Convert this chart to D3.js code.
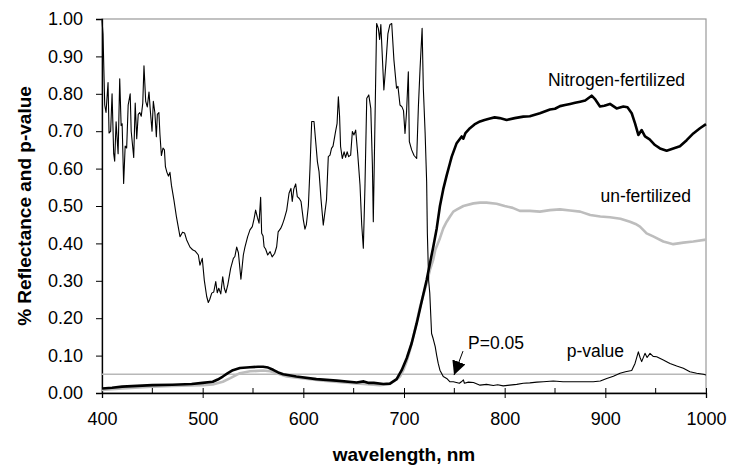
<!DOCTYPE html>
<html lang="en">
  <head>
    <meta charset="UTF-8" />
    <title>Reflectance and p-value</title>
    <script src="https://d3js.org/d3.v7.min.js"></script>
    <style>
      body { margin: 0; background: #fff; }
      text { font-family: Arial, "Liberation Sans", sans-serif; fill: #000; }
    </style>
  </head>
  <body>
    <script>
      const width = 736;
      const height = 470;

      // Nitrogen-fertilized reflectance
      const nitroWave = [400,410,420,435,450,470,489,500,510,515,520,525,530,537,547,555,560,565,570,575,580,593,613,633,653,660,665,670,679.5,686,692.7,697.7,702.7,707.6,712.6,717.5,722.5,725.8,729,732.5,735.7,739,742.4,745.7,747.4,752.3,757.3,759,761,765.5,770,775.5,780,785.4,790,795,802,810,818.5,825,835,845,850,855,860,865,870,875,880,886.4,890,894.7,899,904.6,911.2,917.9,922,926.2,929.5,932.8,936.1,939.4,944,949.3,954.3,960.9,967.5,974.1,980.8,987.4,994,1000];
      const nitroRefl = [0.012,0.014,0.017,0.019,0.021,0.022,0.024,0.027,0.030,0.036,0.044,0.053,0.061,0.067,0.069,0.070,0.070,0.068,0.062,0.055,0.050,0.044,0.037,0.033,0.028,0.031,0.027,0.027,0.024,0.025,0.037,0.061,0.093,0.133,0.186,0.244,0.302,0.347,0.39,0.44,0.50,0.545,0.582,0.615,0.632,0.668,0.686,0.68,0.695,0.708,0.718,0.726,0.73,0.734,0.737,0.735,0.730,0.735,0.739,0.740,0.748,0.758,0.76,0.767,0.77,0.773,0.776,0.779,0.782,0.795,0.785,0.766,0.768,0.773,0.761,0.766,0.764,0.748,0.721,0.69,0.703,0.686,0.678,0.663,0.654,0.648,0.654,0.660,0.676,0.694,0.708,0.719];

      // un-fertilized reflectance
      const unfertWave = [400,420,450,470,500,510,520,527,537,547,560,567,573.5,583.5,600,620,640,660,676,686,692.7,696,699.3,702.7,706,709.3,712.6,716,719.2,722.5,725.8,729,731,735.7,739,742.4,745.7,749,752.3,759,769,775.5,782,792,800,808,815,825,835,845,855,865,875,885,895,904.6,915,924.5,930,934.4,941,948,957.6,967.5,977.5,987.4,1000];
      const unfertRefl = [0.008,0.012,0.017,0.019,0.021,0.023,0.030,0.039,0.053,0.058,0.060,0.058,0.053,0.044,0.039,0.033,0.028,0.024,0.021,0.024,0.036,0.044,0.061,0.085,0.115,0.151,0.19,0.231,0.262,0.293,0.329,0.356,0.382,0.414,0.44,0.458,0.472,0.485,0.49,0.50,0.507,0.509,0.509,0.506,0.50,0.495,0.487,0.487,0.485,0.489,0.491,0.488,0.485,0.476,0.472,0.47,0.466,0.458,0.452,0.445,0.427,0.418,0.405,0.398,0.402,0.405,0.41];

      // p-value of the difference
      const pWave = [400,401,402.7,404,406,407,408.6,410,411.6,412.6,414,416,417.6,419,420,421.5,423,424.5,426,428,429,431.5,433,434.5,436,437.5,439,440.5,441.7,443.4,445,446.7,448,449.7,451,452.5,454,455,456.5,457.6,459,460.6,462,463,464.5,466,467.5,469,471.5,474,476,477.5,480,482,484,487.4,490,492.4,495.7,497.3,499.6,501.6,504,505.6,507,509,511,513,514.5,516,518,519.9,521.5,523,525,527.8,530.5,532,533.8,535.5,538,540.4,542,544.7,547,549.3,551,552.6,554.3,556,557.6,558.6,560,561,562.5,564.6,567,569,571.5,573.5,575,577.5,579,581,583.5,585.8,587.7,589,590.5,592.4,594,596,597.7,600,601.6,603,605,606.6,608.3,610.6,612.3,614,615.6,617.5,619.8,623,624.8,626.5,628,629.5,632,633.5,634.8,636,637,638.7,640.5,642,643.5,645,647,648.7,650.3,652,654,656.3,658,659.6,661.2,663,665,667,668.6,669.5,671,672.8,674.5,675.8,677,680,682,684,686,687.8,690,692.6,694,696,698,699.5,701,702.5,704.3,705.3,707.6,710,712.6,714.3,716,718,719.2,721,722.5,723.2,724.5,725.6,727.4,729,731,732.5,734,735.7,739,742.4,745.7,749,752,755,757,759,760,764,769,775.5,782,788.7,793,798.6,805,812,818.5,825,832,838.4,848.3,858,868.2,878,888,895,901.4,908,914.6,920,926.2,929.5,932.8,934.5,936.1,939.4,941.5,944.4,947.5,951,957.6,964.2,970.9,977.5,984,990.7,997.3,1000];
      const pVal = [0.997,0.96,0.77,0.75,0.83,0.695,0.70,0.80,0.64,0.62,0.725,0.64,0.84,0.715,0.72,0.56,0.66,0.655,0.77,0.80,0.70,0.63,0.775,0.68,0.745,0.75,0.74,0.775,0.875,0.78,0.765,0.805,0.755,0.70,0.78,0.75,0.685,0.745,0.75,0.69,0.635,0.655,0.65,0.605,0.59,0.58,0.59,0.555,0.515,0.47,0.44,0.418,0.43,0.428,0.41,0.39,0.383,0.38,0.369,0.342,0.36,0.302,0.258,0.242,0.25,0.267,0.27,0.298,0.268,0.28,0.265,0.311,0.28,0.268,0.29,0.333,0.36,0.365,0.39,0.375,0.304,0.369,0.39,0.418,0.436,0.445,0.465,0.489,0.47,0.454,0.523,0.427,0.42,0.391,0.385,0.369,0.378,0.364,0.373,0.391,0.431,0.44,0.449,0.465,0.489,0.534,0.547,0.512,0.545,0.559,0.525,0.52,0.512,0.463,0.438,0.45,0.5,0.6,0.726,0.726,0.672,0.618,0.592,0.52,0.449,0.516,0.632,0.636,0.654,0.66,0.699,0.72,0.792,0.74,0.659,0.627,0.645,0.63,0.645,0.632,0.636,0.699,0.69,0.703,0.64,0.556,0.45,0.387,0.55,0.788,0.797,0.761,0.61,0.458,0.7,0.988,0.975,0.945,0.985,0.81,0.88,0.96,0.985,0.988,0.89,0.815,0.82,0.77,0.765,0.755,0.694,0.75,0.859,0.672,0.65,0.635,0.627,0.766,0.87,0.975,0.815,0.694,0.565,0.427,0.30,0.267,0.159,0.145,0.124,0.10,0.079,0.061,0.044,0.039,0.030,0.030,0.028,0.026,0.03,0.035,0.026,0.029,0.028,0.021,0.023,0.020,0.022,0.019,0.021,0.023,0.026,0.027,0.029,0.030,0.032,0.030,0.030,0.030,0.030,0.032,0.039,0.045,0.053,0.057,0.060,0.079,0.110,0.095,0.084,0.106,0.095,0.106,0.098,0.097,0.088,0.079,0.072,0.066,0.057,0.053,0.050,0.048];

      const pThreshold = 0.05;
      const xTicks = [400, 500, 600, 700, 800, 900, 1000];
      const xMinorTicks = [450, 550, 650, 750, 850, 950];
      const yTicks = [0, 0.1, 0.2, 0.3, 0.4, 0.5, 0.6, 0.7, 0.8, 0.9, 1.0];

      const margin = { top: 19, right: 30, bottom: 77, left: 102 };

      const svg = d3
        .select("body")
        .append("svg")
        .attr("width", width)
        .attr("height", height);

      const x = d3.scaleLinear().domain([400, 1000]).range([margin.left, width - margin.right]);
      const y = d3.scaleLinear().domain([0, 1]).range([height - margin.bottom, margin.top]);

      // plot frame (top/right in gray)
      svg.append("rect")
        .attr("x", x(400))
        .attr("y", y(1))
        .attr("width", x(1000) - x(400))
        .attr("height", y(0) - y(1))
        .attr("fill", "none")
        .attr("stroke", "#999")
        .attr("stroke-width", 1.2);

      // y axis
      const yAxis = d3.axisLeft(y)
        .tickValues(yTicks)
        .tickFormat(d3.format(".2f"))
        .tickSize(6)
        .tickPadding(13);
      svg.append("g")
        .attr("transform", `translate(${x(400)},0)`)
        .call(yAxis)
        .call((g) => g.select(".domain").attr("stroke", "#000").attr("stroke-width", 1.3))
        .call((g) => g.selectAll("text").style("font-size", "18px").attr("font-family", "Arial, 'Liberation Sans', sans-serif"));

      // x axis: major ticks cross the axis, minor ticks inside
      const xAxis = d3.axisBottom(x)
        .tickValues(xTicks)
        .tickFormat(d3.format("d"))
        .tickSize(5)
        .tickPadding(14);
      const gx = svg.append("g")
        .attr("transform", `translate(0,${y(0)})`)
        .call(xAxis)
        .call((g) => g.select(".domain").attr("stroke", "#000").attr("stroke-width", 1.3))
        .call((g) => g.selectAll("text").style("font-size", "18px").attr("font-family", "Arial, 'Liberation Sans', sans-serif"));
      gx.selectAll(".tick line").attr("y1", -5).attr("y2", 5);
      gx.selectAll(".minor")
        .data(xMinorTicks)
        .join("line")
        .attr("class", "minor")
        .attr("x1", (d) => x(d))
        .attr("x2", (d) => x(d))
        .attr("y1", -5)
        .attr("y2", 0)
        .attr("stroke", "#000");

      // P = 0.05 line
      svg.append("line")
        .attr("x1", x(400))
        .attr("x2", x(1000))
        .attr("y1", y(pThreshold))
        .attr("y2", y(pThreshold))
        .attr("stroke", "#b8b8b8")
        .attr("stroke-width", 1.6);

      const line = d3.line()
        .x((d) => x(d[0]))
        .y((d) => y(d[1]));

      const series = [
        { wave: unfertWave, vals: unfertRefl, color: "#bdbdbd", w: 2.6 },
        { wave: nitroWave, vals: nitroRefl, color: "#000", w: 2.6 },
        { wave: pWave, vals: pVal, color: "#000", w: 1.1 },
      ];
      series.forEach((s) => {
        svg.append("path")
          .datum(d3.zip(s.wave, s.vals))
          .attr("fill", "none")
          .attr("stroke", s.color)
          .attr("stroke-width", s.w)
          .attr("stroke-linejoin", "round")
          .attr("d", line);
      });

      // arrow for P=0.05
      svg.append("defs")
        .append("marker")
        .attr("id", "head")
        .attr("viewBox", "0 0 10 10")
        .attr("refX", 10)
        .attr("refY", 5)
        .attr("markerWidth", 14)
        .attr("markerHeight", 14)
        .attr("markerUnits", "userSpaceOnUse")
        .attr("orient", "auto")
        .append("path")
        .attr("d", "M0,0L10,5L0,10Z")
        .attr("fill", "#000");
      svg.append("line")
        .attr("x1", x(758.6))
        .attr("y1", y(0.112))
        .attr("x2", x(749.7))
        .attr("y2", y(0.048))
        .attr("stroke", "#000")
        .attr("stroke-width", 1)
        .attr("marker-end", "url(#head)");

      // labels
      const labels = [
        { t: "Nitrogen-fertilized", wl: 843, v: 0.82, anchor: "start" },
        { t: "un-fertilized", wl: 985, v: 0.51, anchor: "end" },
        { t: "P=0.05", wl: 763.6, v: 0.118, anchor: "start" },
        { t: "p-value", wl: 861.6, v: 0.096, anchor: "start" },
      ];
      svg.selectAll(".lbl")
        .data(labels)
        .join("text")
        .attr("class", "lbl")
        .attr("x", (d) => x(d.wl))
        .attr("y", (d) => y(d.v))
        .attr("text-anchor", (d) => d.anchor)
        .style("font-size", "17.5px")
        .text((d) => d.t);

      // axis titles
      svg.append("text")
        .attr("x", (x(400) + x(1000)) / 2)
        .attr("y", 461)
        .attr("text-anchor", "middle")
        .style("font-size", "19px")
        .style("font-weight", "bold")
        .text("wavelength, nm");
      svg.append("text")
        .attr("transform", `translate(31,${(y(0) + y(1)) / 2}) rotate(-90)`)
        .attr("text-anchor", "middle")
        .style("font-size", "19px")
        .style("font-weight", "bold")
        .text("% Reflectance and p-value");
    </script>
  </body>
</html>
